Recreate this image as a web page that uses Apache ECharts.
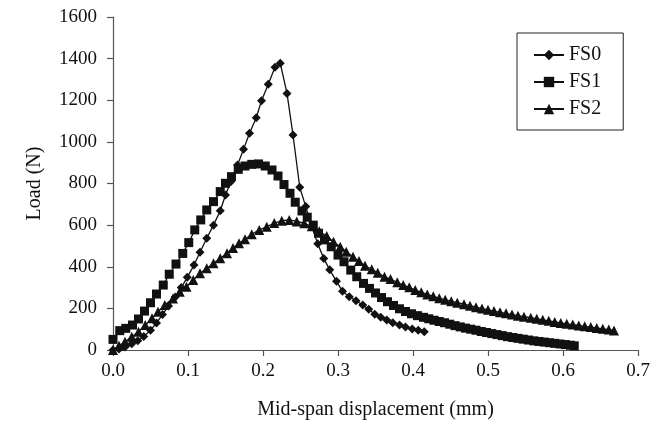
<!DOCTYPE html>
<html>
<head>
<meta charset="utf-8">
<script src="https://cdn.jsdelivr.net/npm/echarts@6/dist/echarts.min.js"></script>
<style>
  html, body { margin: 0; padding: 0; background: #fff; }
  #chart { width: 667px; height: 426px; }
</style>
</head>
<body>
<div id="chart"></div>
<script>
// FS0 (diamonds)
const fs0X = [0, 0.008, 0.016, 0.025, 0.033, 0.041, 0.050, 0.058, 0.066, 0.074, 0.083, 0.091, 0.099, 0.108, 0.116, 0.125, 0.134, 0.143, 0.150, 0.157, 0.166, 0.174, 0.182, 0.191, 0.198, 0.207, 0.216, 0.223, 0.232, 0.240, 0.249, 0.257, 0.265, 0.273, 0.281, 0.289, 0.298, 0.306, 0.315, 0.324, 0.333, 0.341, 0.349, 0.357, 0.365, 0.373, 0.382, 0.390, 0.399, 0.407, 0.415];
const fs0Y = [0, 5, 15, 30, 45, 65, 95, 130, 170, 212, 255, 300, 349, 408, 470, 537, 600, 669, 745, 809, 889, 964, 1041, 1116, 1198, 1277, 1358, 1378, 1233, 1033, 782, 689, 592, 510, 440, 385, 330, 282, 256, 237, 216, 196, 172, 157, 144, 131, 120, 110, 101, 95, 88];

// FS1 (squares)
const fs1X = [0, 0.009, 0.017, 0.026, 0.034, 0.042, 0.050, 0.058, 0.067, 0.075, 0.084, 0.093, 0.101, 0.109, 0.117, 0.125, 0.134, 0.143, 0.150, 0.158, 0.167, 0.176, 0.185, 0.194, 0.203, 0.212, 0.220, 0.228, 0.236, 0.243, 0.252, 0.259, 0.267, 0.274, 0.282, 0.291, 0.300, 0.308, 0.317, 0.325, 0.334, 0.342, 0.350, 0.358, 0.366, 0.374, 0.382, 0.390, 0.398, 0.406, 0.414, 0.421, 0.428, 0.435, 0.442, 0.449, 0.456, 0.463, 0.470, 0.477, 0.484, 0.491, 0.498, 0.505, 0.512, 0.519, 0.526, 0.533, 0.540, 0.547, 0.554, 0.561, 0.568, 0.575, 0.582, 0.589, 0.596, 0.603, 0.610, 0.615];
const fs1Y = [51, 93, 104, 120, 149, 187, 227, 269, 312, 364, 413, 464, 516, 577, 625, 673, 713, 761, 801, 833, 868, 884, 892, 894, 884, 865, 836, 795, 753, 710, 668, 638, 600, 561, 529, 496, 456, 424, 384, 352, 320, 296, 274, 252, 232, 214, 198, 185, 174, 165, 157, 150, 143, 137, 131, 124, 117, 111, 105, 100, 95, 89, 84, 79, 74, 69, 64, 60, 56, 52, 48, 44, 41, 38, 35, 32, 29, 26, 23, 20];

// FS2 (triangles)
const fs2X = [0, 0.008, 0.016, 0.025, 0.034, 0.043, 0.052, 0.060, 0.069, 0.080, 0.089, 0.098, 0.107, 0.116, 0.125, 0.134, 0.143, 0.152, 0.160, 0.168, 0.176, 0.185, 0.195, 0.205, 0.215, 0.225, 0.235, 0.245, 0.255, 0.265, 0.275, 0.285, 0.294, 0.303, 0.311, 0.320, 0.328, 0.336, 0.345, 0.353, 0.362, 0.370, 0.379, 0.387, 0.395, 0.403, 0.411, 0.419, 0.427, 0.435, 0.443, 0.451, 0.459, 0.468, 0.476, 0.484, 0.492, 0.500, 0.508, 0.516, 0.524, 0.532, 0.540, 0.548, 0.557, 0.565, 0.573, 0.581, 0.589, 0.597, 0.605, 0.613, 0.621, 0.629, 0.637, 0.645, 0.653, 0.661, 0.668];
const fs2Y = [0, 20, 40, 64, 88, 120, 152, 184, 216, 248, 280, 304, 336, 369, 393, 417, 441, 465, 490, 513, 532, 556, 577, 592, 610, 621, 625, 618, 609, 594, 570, 548, 520, 496, 472, 448, 428, 405, 388, 371, 352, 341, 325, 312, 301, 288, 277, 267, 258, 249, 241, 234, 227, 220, 213, 206, 199, 193, 187, 181, 176, 170, 165, 160, 155, 150, 145, 140, 135, 130, 126, 122, 118, 114, 110, 106, 102, 98, 94];

const xTicks = [0, 0.1, 0.2, 0.3, 0.4, 0.5, 0.6, 0.7];
const yTicks = [0, 200, 400, 600, 800, 1000, 1200, 1400, 1600];

function pairs(xs, ys) {
  return xs.map((x, i) => [x, ys[i]]);
}

const font = "Liberation Serif";
const ink = "#111";

const myChart = echarts.init(document.getElementById("chart"), null, { renderer: "canvas" });

function lineSeries(name, data, symbol, size) {
  return {
    name: name,
    type: "line",
    data: data,
    symbol: symbol,
    symbolSize: size,
    showSymbol: true,
    color: ink,
    lineStyle: { color: ink, width: 1.3 },
    itemStyle: { color: ink, borderWidth: 0 },
    animation: false,
  };
}

const option = {
  animation: false,
  backgroundColor: "#fff",
  grid: { left: 113, right: 29, top: 17, bottom: 76, containLabel: false },
  legend: {
    orient: "vertical",
    left: 517,
    top: 33,
    padding: [12, 22, 11, 16],
    itemGap: 7,
    itemWidth: 30,
    itemHeight: 13,
    borderColor: "#222",
    borderWidth: 1,
    textStyle: { fontFamily: font, fontSize: 20, color: ink, lineHeight: 20 },
    data: ["FS0", "FS1", "FS2"],
  },
  xAxis: {
    type: "value",
    min: xTicks[0],
    max: xTicks[xTicks.length - 1],
    interval: 0.1,
    name: "Mid-span displacement (mm)",
    nameLocation: "middle",
    nameGap: 50,
    nameTextStyle: { fontFamily: font, fontSize: 20, color: ink },
    axisLine: { show: true, onZero: false, lineStyle: { color: "#555", width: 1.2 } },
    axisTick: { show: true, inside: false, length: 6, lineStyle: { color: "#555", width: 1.2 } },
    axisLabel: {
      fontFamily: font, fontSize: 19, color: ink, margin: 12,
      formatter: (v) => v.toFixed(1),
    },
    splitLine: { show: false },
  },
  yAxis: {
    type: "value",
    min: yTicks[0],
    max: yTicks[yTicks.length - 1],
    interval: 200,
    name: "Load (N)",
    nameLocation: "middle",
    nameGap: 68,
    nameTextStyle: { fontFamily: font, fontSize: 20, color: ink },
    axisLine: { show: true, lineStyle: { color: "#555", width: 1.2 } },
    axisTick: { show: true, inside: false, length: 6, lineStyle: { color: "#555", width: 1.2 } },
    axisLabel: {
      fontFamily: font, fontSize: 19, color: ink, margin: 16,
      formatter: (v) => String(v),
    },
    splitLine: { show: false },
  },
  series: [
    lineSeries("FS0", pairs(fs0X, fs0Y), "diamond", [9, 9]),
    lineSeries("FS1", pairs(fs1X, fs1Y), "rect", [9, 9]),
    lineSeries("FS2", pairs(fs2X, fs2Y), "triangle", [10, 10]),
  ],
};

myChart.setOption(option);
</script>
</body>
</html>
